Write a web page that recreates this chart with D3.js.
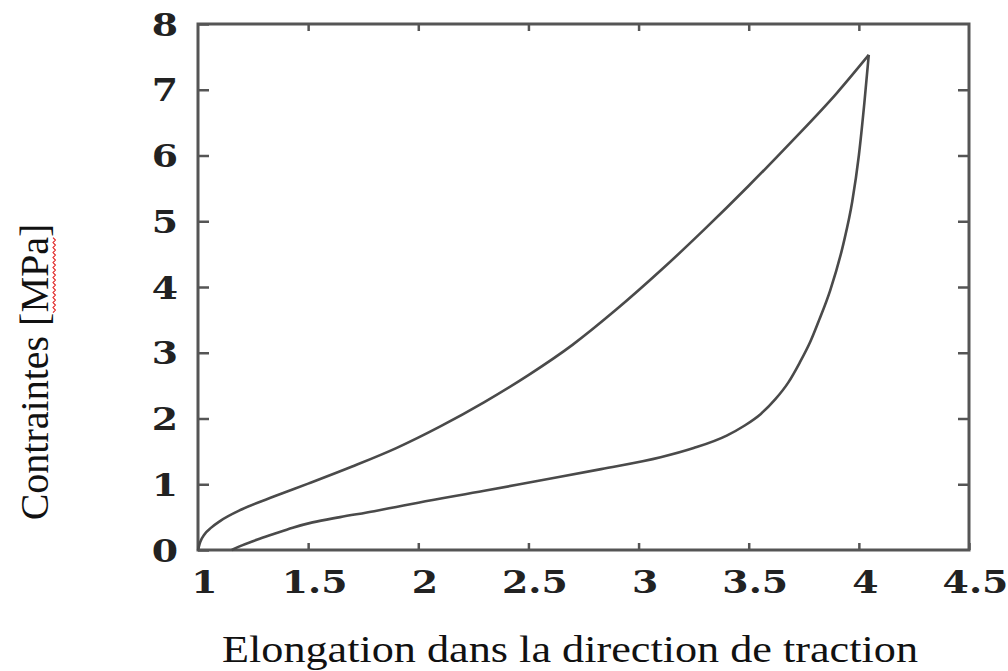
<!DOCTYPE html>
<html>
<head>
<meta charset="utf-8">
<script src="https://cdn.jsdelivr.net/npm/d3@7"></script>
<style>
  html, body { margin: 0; padding: 0; background: #fff; }
  svg { display: block; }
</style>
</head>
<body>
<svg id="chart" width="1008" height="671"></svg>
<script>
// Loading branch: elongation (stretch ratio) vs stress [MPa]
const loadStretch = [1.0, 1.01, 1.03, 1.06, 1.1, 1.2, 1.35, 1.5, 1.7, 1.9, 2.1, 2.3, 2.5, 2.7, 2.9, 3.1, 3.3, 3.5, 3.7, 3.9, 4.045];
const loadStress  = [0.0, 0.12, 0.24, 0.34, 0.44, 0.62, 0.82, 1.01, 1.27, 1.55, 1.88, 2.25, 2.66, 3.12, 3.66, 4.25, 4.88, 5.54, 6.23, 6.95, 7.53];

// Unloading branch (listed from zero stress up to the peak)
const unloadStretch = [1.153, 1.2, 1.27, 1.34, 1.43, 1.52, 1.645, 1.8, 1.9, 2.0, 2.3, 2.54, 2.83, 3.1, 3.25, 3.4, 3.48, 3.555, 3.62, 3.68, 3.73, 3.78, 3.82, 3.87, 3.93, 3.97, 4.0, 4.025, 4.045];
const unloadStress  = [0.0, 0.07, 0.16, 0.24, 0.34, 0.42, 0.5, 0.59, 0.655, 0.72, 0.9, 1.05, 1.23, 1.41, 1.55, 1.74, 1.89, 2.07, 2.29, 2.55, 2.84, 3.17, 3.5, 3.95, 4.66, 5.3, 6.0, 6.8, 7.53];

// Axis ticks
const xTickValues = [1, 1.5, 2, 2.5, 3, 3.5, 4, 4.5];
const yTickValues = [0, 1, 2, 3, 4, 5, 6, 7, 8];

const xTitle = "Elongation dans la direction de traction";
const yTitle = "Contraintes ";
const yUnit = "[MPa]";

const svg = d3.select("#chart");

const x = d3.scaleLinear().domain([1, 4.5]).range([198, 969]);
const y = d3.scaleLinear().domain([0, 8]).range([550, 24]);

const axisColor = "#555";
const labelFont = "'DejaVu Serif', serif";

// Tick marks on all four sides, pointing inward
function styleAxis(g) {
  g.select(".domain").remove();
  g.selectAll(".tick line").attr("stroke", axisColor).attr("stroke-width", 2.5);
}

const gBottom = svg.append("g")
  .attr("transform", `translate(0,${y(0)})`)
  .call(d3.axisBottom(x).tickValues(xTickValues).tickSize(-7).tickFormat(d3.format("")))
  .call(styleAxis);
gBottom.selectAll(".tick text")
  .attr("y", 43).attr("dy", null)
  .attr("text-anchor", "middle")
  .attr("transform", "translate(6,0) scale(1.22,1)")
  .attr("fill", "#222")
  .style("font-family", labelFont).style("font-weight", "bold").style("font-size", "31px");

svg.append("g")
  .attr("transform", `translate(0,${y(8)})`)
  .call(d3.axisTop(x).tickValues(xTickValues.slice(1, -1)).tickSize(-7).tickFormat(""))
  .call(styleAxis);

const gLeft = svg.append("g")
  .attr("transform", `translate(${x(1)},0)`)
  .call(d3.axisLeft(y).tickValues(yTickValues).tickSize(-11).tickFormat(d3.format("")))
  .call(styleAxis);
gLeft.selectAll(".tick text")
  .attr("x", 0).attr("y", 11).attr("dy", null)
  .attr("text-anchor", "middle")
  .attr("transform", "translate(-33,0) scale(1.22,1)")
  .attr("fill", "#222")
  .style("font-family", labelFont).style("font-weight", "bold").style("font-size", "31px");

svg.append("g")
  .attr("transform", `translate(${x(4.5)},0)`)
  .call(d3.axisRight(y).tickValues(yTickValues.slice(1, -1)).tickSize(-11).tickFormat(""))
  .call(styleAxis);

// Frame
svg.append("rect")
  .attr("x", x(1)).attr("y", y(8))
  .attr("width", x(4.5) - x(1)).attr("height", y(0) - y(8))
  .attr("fill", "none").attr("stroke", axisColor).attr("stroke-width", 3);

// Hysteresis loop
const line = d3.line()
  .x(d => x(d[0])).y(d => y(d[1]))
  .curve(d3.curveMonotoneX);

const loadPts = loadStretch.map((v, i) => [v, loadStress[i]]);
const unloadPts = unloadStretch.map((v, i) => [v, unloadStress[i]]);

svg.append("path").datum(loadPts)
  .attr("d", line).attr("fill", "none")
  .attr("stroke", "#4a4a4a").attr("stroke-width", 2.6).attr("stroke-linejoin", "round");
svg.append("path").datum(unloadPts)
  .attr("d", line).attr("fill", "none")
  .attr("stroke", "#4a4a4a").attr("stroke-width", 2.6).attr("stroke-linejoin", "round");

// Axis titles
svg.append("text")
  .attr("x", 570).attr("y", 662)
  .attr("text-anchor", "middle")
  .attr("textLength", 696).attr("lengthAdjust", "spacingAndGlyphs")
  .style("font-family", "'Liberation Serif', 'Times New Roman', serif")
  .style("font-size", "38px").attr("fill", "#111")
  .text(xTitle);

const yTitleG = svg.append("g").attr("transform", "translate(48,372) rotate(-90)");
const yText = yTitleG.append("text")
  .attr("x", 0).attr("y", 0)
  .attr("text-anchor", "middle")
  .style("font-family", "'Liberation Serif', 'Times New Roman', serif")
  .style("font-size", "40px").attr("fill", "#111");
yText.append("tspan").text(yTitle);
yText.append("tspan").text(yUnit);

// Wavy spell-check underline beneath "MPa"
const full = yTitle + yUnit;
const startIdx = full.indexOf("M");
const endIdx = full.indexOf("]");
const node = yText.node();
const x0 = node.getStartPositionOfChar(startIdx).x;
const x1 = node.getEndPositionOfChar(endIdx - 1).x;
const wave = [];
for (let px = x0, k = 0; px <= x1; px += 2.5, k++) {
  wave.push([px, 5 + (k % 2 ? 2.4 : 0)]);
}
yTitleG.append("path")
  .attr("d", d3.line()(wave))
  .attr("fill", "none").attr("stroke", "#e02020").attr("stroke-width", 1.1);
</script>
</body>
</html>
